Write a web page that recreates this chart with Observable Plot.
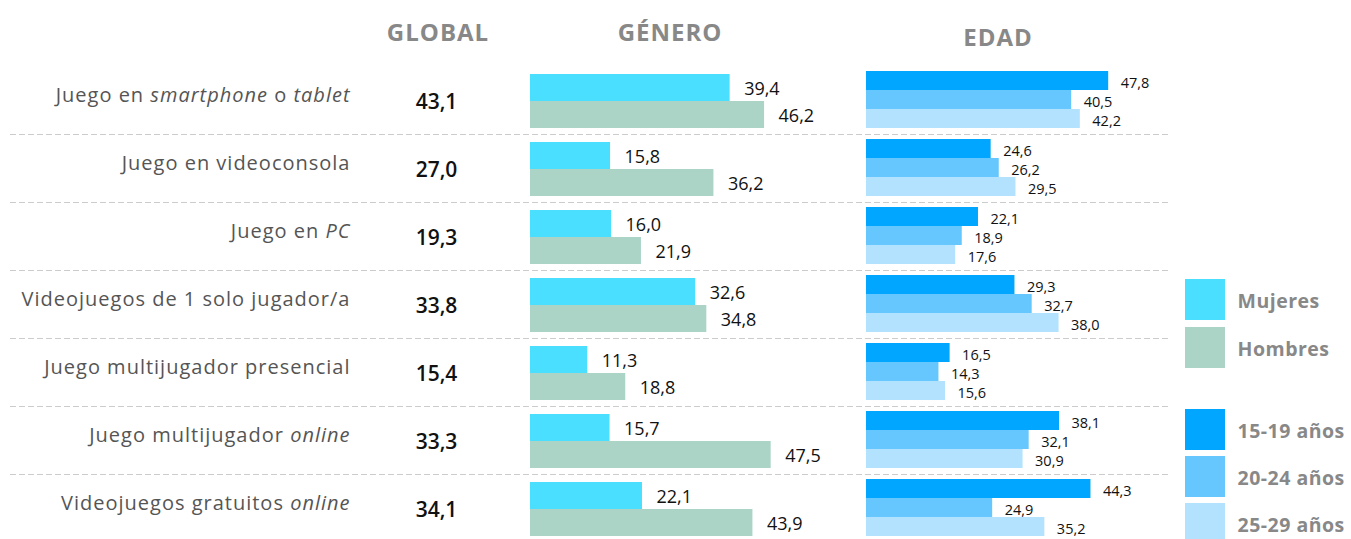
<!DOCTYPE html>
<html>
<head>
<meta charset="utf-8">
<script src="https://cdn.jsdelivr.net/npm/d3@7"></script>
<script src="https://cdn.jsdelivr.net/npm/@observablehq/plot@0.6"></script>
<style>
  html, body { margin: 0; padding: 0; background: #fff; overflow: hidden; }
  #chart { position: relative; width: 1351px; height: 539px; overflow: hidden; font-family: "Open Sans", sans-serif; }
  #chart > .panel { position: absolute; }
  #chart > .panel svg { overflow: visible; display: block; }
  .hdr { position: absolute; transform: translate(-50%, -50%); line-height: 1; font-weight: 700; color: #888; font-size: 24px; letter-spacing: 1px; white-space: nowrap; }
</style>
</head>
<body>
<div id="chart"></div>
<script>
// ---- data ----
const labelMarkup = [
  "Juego en *smartphone* o *tablet*",
  "Juego en videoconsola",
  "Juego en *PC*",
  "Videojuegos de 1 solo jugador/a",
  "Juego multijugador presencial",
  "Juego multijugador *online*",
  "Videojuegos gratuitos *online*"
];
const categories = labelMarkup.map(s => s.replace(/\*/g, ""));
const globalValues = [43.1, 27.0, 19.3, 33.8, 15.4, 33.3, 34.1];
const mujeres = [39.4, 15.8, 16.0, 32.6, 11.3, 15.7, 22.1];
const hombres = [46.2, 36.2, 21.9, 34.8, 18.8, 47.5, 43.9];
const edad1519 = [47.8, 24.6, 22.1, 29.3, 16.5, 38.1, 44.3];
const edad2024 = [40.5, 26.2, 18.9, 32.7, 14.3, 32.1, 24.9];
const edad2529 = [42.2, 29.5, 17.6, 38.0, 15.6, 30.9, 35.2];
const genderSeries = ["Mujeres", "Hombres"];
const ageSeries = ["15-19 años", "20-24 años", "25-29 años"];
const genderColors = ["#4ADEFF", "#ABD4C7"];
const ageColors = ["#00A6FF", "#66C7FF", "#B3E2FF"];
const headers = ["GLOBAL", "GÉNERO", "EDAD"];

// ---- tables ----
const fmt = v => v.toFixed(1).replace(".", ",");
const rows = categories.map((c, i) => ({cat: c, global: globalValues[i]}));
const genderData = categories.flatMap((c, i) => [
  {cat: c, series: genderSeries[0], value: mujeres[i]},
  {cat: c, series: genderSeries[1], value: hombres[i]}
]);
const ageData = categories.flatMap((c, i) => [
  {cat: c, series: ageSeries[0], value: edad1519[i]},
  {cat: c, series: ageSeries[1], value: edad2024[i]},
  {cat: c, series: ageSeries[2], value: edad2529[i]}
]);

const chart = document.getElementById("chart");
const FONT = "'Open Sans', sans-serif";
const H = 542, MT = 66;
const fyScale = {domain: categories, padding: 0, axis: null};

function place(node, left, top) {
  const d = document.createElement("div");
  d.className = "panel";
  d.style.left = left + "px";
  d.style.top = top + "px";
  d.appendChild(node);
  chart.appendChild(d);
  return node;
}

// separators
place(Plot.plot({
  width: 1161, height: H, marginTop: MT, marginBottom: 0, marginLeft: 0, marginRight: 0,
  fy: fyScale,
  facet: {data: rows, y: "cat"},
  marks: [
    Plot.frame({anchor: "bottom", stroke: "#cccccc", strokeWidth: 1, strokeDasharray: "5,4"})
  ]
}), 10, 0);

// category labels
const labelSvg = place(Plot.plot({
  width: 360, height: H, marginTop: MT, marginBottom: 0, marginLeft: 0, marginRight: 10,
  style: {fontFamily: FONT, letterSpacing: "1px"},
  fy: fyScale,
  marks: [
    Plot.text(rows, {fy: "cat", text: "cat", frameAnchor: "right", textAnchor: "end", dy: -5,
      fontSize: 20, fill: "#555555"})
  ]
}), 0, 0);
const markupMap = new Map(categories.map((c, i) => [c, labelMarkup[i]]));
d3.select(labelSvg).selectAll("text").each(function () {
  const m = markupMap.get(this.textContent);
  if (!m) return;
  const sel = d3.select(this);
  sel.text("");
  m.split("*").forEach((part, i) => {
    if (!part) return;
    const t = sel.append("tspan").text(part);
    if (i % 2) t.attr("font-style", "italic");
  });
});

// global values
place(Plot.plot({
  width: 100, height: H, marginTop: MT, marginBottom: 0, marginLeft: 0, marginRight: 0,
  style: {fontFamily: FONT},
  fy: fyScale,
  marks: [
    Plot.text(rows, {fy: "cat", text: d => fmt(d.global), frameAnchor: "middle", dy: 2,
      fontSize: 21, fontWeight: 600, fill: "#111"})
  ]
}), 386, 0);

// gender bars
place(Plot.plot({
  width: 304, height: H, marginTop: MT, marginBottom: 0, marginLeft: 0, marginRight: 0,
  style: {fontFamily: FONT},
  fy: fyScale,
  x: {domain: [0, 60], axis: null},
  y: {domain: genderSeries, padding: 0, insetTop: 7, insetBottom: 6, axis: null},
  color: {domain: genderSeries, range: genderColors},
  marks: [
    Plot.barX(genderData, {fy: "cat", y: "series", x: "value", fill: "series"}),
    Plot.text(genderData, {fy: "cat", y: "series", x: "value", text: d => fmt(d.value),
      textAnchor: "start", dx: 14, dy: 1, fontSize: 18, fill: "#111"})
  ]
}), 530, 0);

// age bars
place(Plot.plot({
  width: 304, height: H, marginTop: MT, marginBottom: 0, marginLeft: 0, marginRight: 0,
  style: {fontFamily: FONT},
  fy: fyScale,
  x: {domain: [0, 60], axis: null},
  y: {domain: ageSeries, padding: 0, insetTop: 4, insetBottom: 5, axis: null},
  color: {domain: ageSeries, range: ageColors},
  marks: [
    Plot.barX(ageData, {fy: "cat", y: "series", x: "value", fill: "series"}),
    Plot.text(ageData, {fy: "cat", y: "series", x: "value", text: d => fmt(d.value),
      textAnchor: "start", dx: 12, dy: 2, fontSize: 14.5, letterSpacing: "0.3px", fill: "#111"})
  ]
}), 866, 0);

// legends
function legendPlot(series, colors, h, padIn) {
  return Plot.plot({
    width: 166, height: h, marginTop: 0, marginBottom: 0, marginLeft: 0, marginRight: 126,
    style: {fontFamily: FONT, letterSpacing: "0.5px"},
    x: {axis: null},
    y: {domain: series, paddingInner: padIn, paddingOuter: 0, axis: null},
    color: {domain: series, range: colors},
    marks: [
      Plot.cell(series, {y: d => d, fill: d => d}),
      Plot.text(series, {y: d => d, text: d => d, frameAnchor: "right", textAnchor: "start",
        dx: 12, dy: 2, fontSize: 19.5, fontWeight: 700, fill: "#888"})
    ]
  });
}
place(legendPlot(genderSeries, genderColors, 89, 7 / 48), 1185, 279);
place(legendPlot(ageSeries, ageColors, 136, 6.5 / 47.5), 1185, 408);

// headers
const hdrPos = [[438, 32], [670, 32], [998, 37]];
headers.forEach((h, i) => {
  const d = document.createElement("div");
  d.className = "hdr";
  d.textContent = h;
  d.style.left = hdrPos[i][0] + "px";
  d.style.top = hdrPos[i][1] + "px";
  chart.appendChild(d);
});
</script>
</body>
</html>
